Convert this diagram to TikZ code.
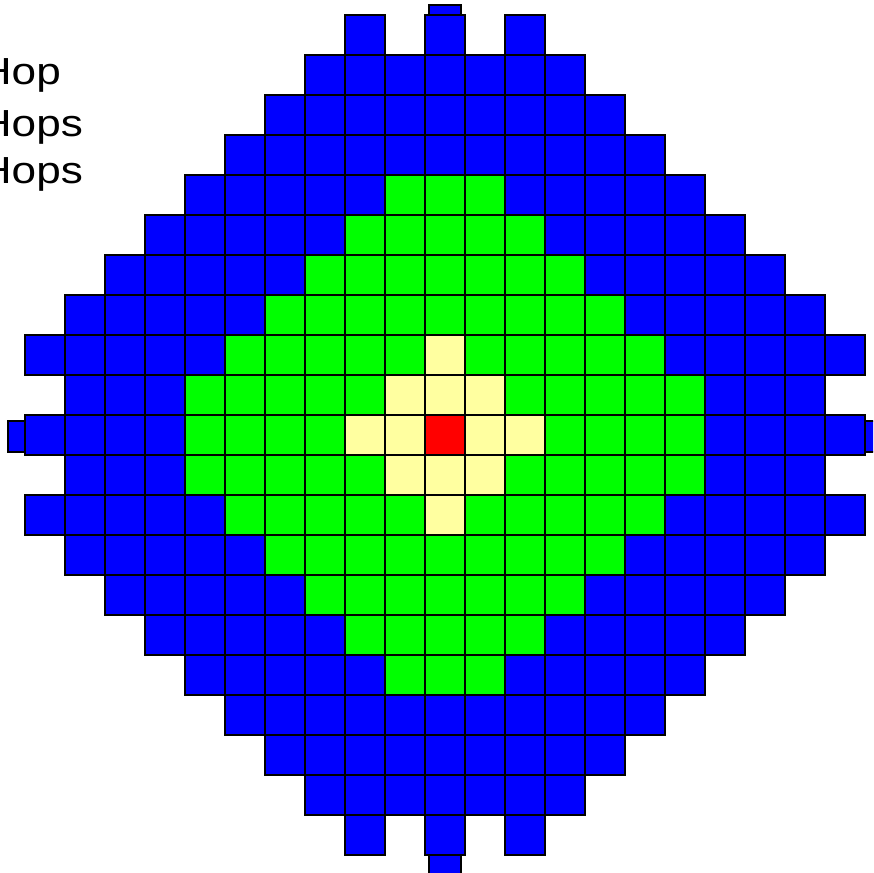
\documentclass[tikz,border=0pt]{standalone}
\usepackage{fontspec}
\newfontfamily\lab{Liberation Sans}
\definecolor{cblue}{RGB}{0,0,255}
\definecolor{cgreen}{RGB}{0,255,0}
\definecolor{cyel}{RGB}{255,255,160}
\definecolor{cred}{RGB}{255,0,0}
\tikzset{
  cell/.style={draw=black, line width=1.2pt},
  lbl/.style={anchor=base west, inner sep=0pt, text=black, font=\lab\fontsize{37.7}{40}\selectfont}
}
\begin{document}
\begin{tikzpicture}[x=1pt,y=-1pt]
\useasboundingbox (0,0) rectangle (873,873);
\clip (0,0) rectangle (873,873);
% small edge rectangles (behind)
\filldraw[cell, fill=cblue] (429,5) rectangle (461,36);
\filldraw[cell, fill=cblue] (8,421) rectangle (40,452);
\filldraw[cell, fill=cblue] (850,421) rectangle (882,452);
\filldraw[cell, fill=cblue] (429,840) rectangle (461,885);
% blue region
\foreach \j/\e in {-9/3,-8/4,-7/5,-6/6,-5/7,-4/8,-3/9,-2/10,-1/9,0/10,1/9,2/10,3/9,4/8,5/7,6/6,7/5,8/4,9/3}{
  \pgfmathtruncatemacro{\n}{2*\e}
  \foreach \k in {0,...,\n}{
    \filldraw[cell, fill=cblue] ({425+40*(\k-\e)},{415+40*\j}) rectangle ++(40,40);
  }
}
\foreach \j in {-10,10}{
  \foreach \i in {-2,0,2}{
    \filldraw[cell, fill=cblue] ({425+40*\i},{415+40*\j}) rectangle ++(40,40);
  }
}
% green region
\foreach \j/\e in {-6/1,-5/2,-4/3,-3/4,-2/5,-1/6,0/6,1/6,2/5,3/4,4/3,5/2,6/1}{
  \pgfmathtruncatemacro{\n}{2*\e}
  \foreach \k in {0,...,\n}{
    \filldraw[cell, fill=cgreen] ({425+40*(\k-\e)},{415+40*\j}) rectangle ++(40,40);
  }
}
% yellow region
\foreach \j/\e in {-2/0,-1/1,0/2,1/1,2/0}{
  \pgfmathtruncatemacro{\n}{2*\e}
  \foreach \k in {0,...,\n}{
    \filldraw[cell, fill=cyel] ({425+40*(\k-\e)},{415+40*\j}) rectangle ++(40,40);
  }
}
% centre
\filldraw[cell, fill=cred] (425,415) rectangle ++(40,40);
% legend text
\node[lbl] (h1) at (-20.3,84) {\scalebox{1.17}[1]{Hop}};
\node[lbl] (h2) at (-20.3,136) {\scalebox{1.17}[1]{Hops}};
\node[lbl] (h3) at (-20.3,183) {\scalebox{1.17}[1]{Hops}};
\end{tikzpicture}
\end{document}
